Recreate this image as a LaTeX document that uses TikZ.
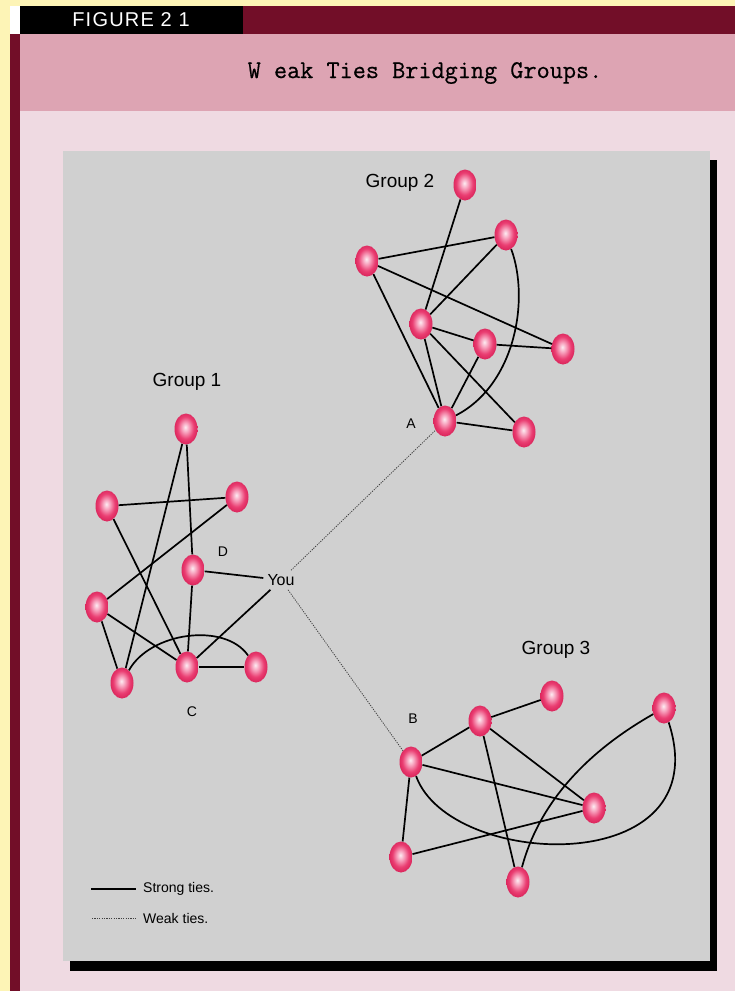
\documentclass[tikz,border=0pt]{standalone}
\usepackage{fontspec}
\setmainfont{Liberation Sans}
\newfontfamily\monofont[FakeBold=0.5]{Latin Modern Mono}
\newfontfamily\figfont[LetterSpace=6]{Liberation Sans}
\usetikzlibrary{shapes.geometric}
\definecolor{bgyellow}{RGB}{253,244,182}
\definecolor{darkred}{RGB}{114,14,40}
\definecolor{bandpink}{RGB}{221,164,179}
\definecolor{panelpink}{RGB}{239,218,226}
\definecolor{panelgray}{RGB}{208,208,208}
\definecolor{ballhi}{RGB}{253,236,242}
\definecolor{ballmid}{RGB}{247,160,188}
\definecolor{ballout}{RGB}{234,62,114}
\definecolor{balldark}{RGB}{220,40,94}
\pgfdeclareradialshading{pinkball}{\pgfpoint{-1.5bp}{3bp}}{color(0bp)=(ballhi); color(8bp)=(ballmid); color(18bp)=(ballout); color(25bp)=(balldark); color(50bp)=(balldark)}
\begin{document}
\begin{tikzpicture}[x=1pt,y=-1pt,
  person/.style={ellipse, minimum width=23pt, minimum height=31pt, inner sep=0pt, shade, shading=pinkball},
  strong/.style={line width=1.7pt, black},
  weak/.style={line width=0.8pt, black!75, dash pattern=on 1.2pt off 1.2pt},
  lbl/.style={font=\fontsize{14}{14}\selectfont, inner sep=0pt},
  grp/.style={font=\fontsize{19}{19}\selectfont, inner sep=0pt},
  legtext/.style={font=\fontsize{14}{14}\selectfont, inner sep=0pt, anchor=west}]
\useasboundingbox (0,0) rectangle (735,991);
% frame
\fill[bgyellow] (0,0) rectangle (735,991);
\fill[white] (10,6) rectangle (20,34);
\fill[black] (20,6) rectangle (243,34);
\fill[darkred] (243,6) rectangle (735,34);
\fill[darkred] (10,34) rectangle (20,991);
\fill[bandpink] (20,34) rectangle (735,111);
\fill[panelpink] (20,111) rectangle (735,991);
\fill[black] (70,160) rectangle (717,971);
\fill[panelgray] (63,151) rectangle (710,961);
% header texts
\node[text=white, font=\figfont\fontsize{20}{20}\selectfont, inner sep=0pt] (figlabel) at (131,20) {FIGURE 2 1};
\node[font=\monofont\fontsize{25.5}{25.5}\selectfont, inner sep=0pt] (title) at (425,73) {W eak Ties Bridging Groups.};
% group labels
\node[grp] (grp1) at (187,382) {Group 1};
\node[grp] (grp2) at (400,183) {Group 2};
\node[grp] (grp3) at (556,650) {Group 3};
% group 2 nodes
\node[person] (g2a) at (465,185) {};
\node[person] (g2b) at (506,235) {};
\node[person] (g2c) at (367,261) {};
\node[person] (g2d) at (421,324) {};
\node[person] (g2e) at (485,344) {};
\node[person] (g2f) at (563,349) {};
\node[person] (A) at (445,421) {};
\node[person] (g2h) at (524,432) {};
% group 1 nodes
\node[person] (g1a) at (186,429) {};
\node[person] (g1b) at (107,506) {};
\node[person] (g1c) at (237,497) {};
\node[person] (D) at (193,570) {};
\node[person] (g1e) at (97,607) {};
\node[person] (g1f) at (122,683) {};
\node[person] (C) at (187,667) {};
\node[person] (g1h) at (256,667) {};
% group 3 nodes
\node[person] (g3a) at (552,696) {};
\node[person] (g3b) at (480,721) {};
\node[person] (g3c) at (664,708) {};
\node[person] (B) at (411,762) {};
\node[person] (g3d) at (594,808) {};
\node[person] (g3e) at (401,857) {};
\node[person] (g3f) at (518,882) {};
% you and labels
\node[font=\fontsize{16}{16}\selectfont, inner sep=4pt] (you) at (281,580) {You};
\node[lbl] (labA) at (411,424) {A};
\node[lbl] (labB) at (413,719) {B};
\node[lbl] (labC) at (192,712) {C};
\node[lbl] (labD) at (223,552) {D};
% group 2 edges
\draw[strong] (g2a) -- (g2d);
\draw[strong] (g2c) -- (g2b);
\draw[strong] (g2c) -- (g2f);
\draw[strong] (g2c) -- (A);
\draw[strong] (g2b) -- (g2d);
\draw[strong] (g2d) -- (g2e);
\draw[strong] (g2e) -- (g2f);
\draw[strong] (g2d) -- (A);
\draw[strong] (g2d) -- (g2h);
\draw[strong] (g2e) -- (A);
\draw[strong] (A) -- (g2h);
\draw[strong] (g2b) .. controls (530,300) and (515,385) .. (A);
% group 1 edges
\draw[strong] (g1a) -- (D);
\draw[strong] (g1a) -- (g1f);
\draw[strong] (g1b) -- (g1c);
\draw[strong] (g1b) -- (C);
\draw[strong] (g1c) -- (g1e);
\draw[strong] (g1e) -- (C);
\draw[strong] (g1e) -- (g1f);
\draw[strong] (D) -- (C);
\draw[strong] (D) -- (you);
\draw[strong] (C) -- (you);
\draw[strong] (C) -- (g1h);
\draw[strong] (g1f) .. controls (150,632) and (225,622) .. (g1h);
% group 3 edges
\draw[strong] (g3b) -- (g3a);
\draw[strong] (B) -- (g3b);
\draw[strong] (B) -- (g3d);
\draw[strong] (B) -- (g3e);
\draw[strong] (g3b) -- (g3f);
\draw[strong] (g3b) -- (g3d);
\draw[strong] (g3e) -- (g3d);
\draw[strong] (g3f) .. controls (540,800) and (590,750) .. (g3c);
\draw[strong] (B) .. controls (450,870) and (720,880) .. (g3c);
% weak ties
\draw[weak] (you) -- (A);
\draw[weak] (you) -- (B);
% legend
\coordinate (s1) at (91,889);
\coordinate (s2) at (136,889);
\coordinate (w1) at (92,918);
\coordinate (w2) at (137,918);
\draw[black, line width=1.3pt] (s1) -- (s2);
\draw[weak] (w1) -- (w2);
\node[legtext] (strongtxt) at (143,889) {Strong ties.};
\node[legtext] (weaktxt) at (143,918) {Weak ties.};
\end{tikzpicture}
\end{document}
